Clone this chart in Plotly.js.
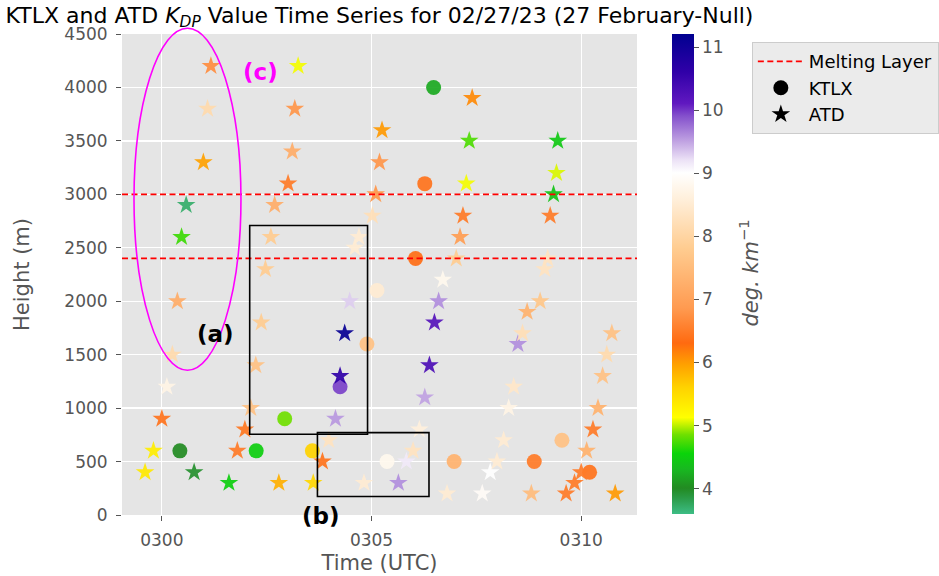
<!DOCTYPE html>
<html>
<head>
<meta charset="utf-8">
<script src="https://cdn.plot.ly/plotly-3.0.1.min.js"></script>
<style>html,body{margin:0;padding:0;background:#fff;}</style>
</head>
<body>
<div id="chart" style="width:939px;height:576px;"></div>
<script>
// Time in minutes after 03:00 UTC
const tickVals = [0, 5, 10];
const tickText = ['0300', '0305', '0310'];
const meltingLayer = [2400, 3000];

// KTLX (circles)
const ktlxTime   = [0.43, 2.25, 2.93, 3.59, 4.25, 4.89, 5.13, 5.37, 6.05, 6.27, 6.48, 6.97, 8.88, 9.54, 10.20];
const ktlxHeight = [600,  600,  900,  600,  1200, 1600, 2100, 500,  2400, 3100, 4000, 500,  500,  700,  400];
const ktlxKdp    = [4.0,  4.5,  4.85, 5.6,  9.95, 7.6,  8.5,  8.8,  6.35, 6.4,  4.2,  7.3,  6.5,  7.6,  6.4];

// ATD (stars)
const atdTime = [
  -0.40, -0.20, 0.00, 0.12, 0.25, 0.37, 0.47, 0.58, 0.99, 1.09, 1.17,
  0.77, 1.60, 1.80, 1.98, 2.12, 2.24, 2.37, 2.47, 2.60, 2.69, 3.01, 3.11, 3.17, 3.25,
  2.79, 3.61, 3.83, 3.98, 4.14, 4.25, 4.36, 4.48, 4.60, 4.70, 5.02, 5.10, 5.19, 5.25,
  4.82, 5.64, 5.83, 5.99, 6.14, 6.27, 6.38, 6.50, 6.60, 6.70, 6.80, 7.02, 7.11, 7.18, 7.26, 7.33, 7.40,
  7.64, 7.83, 7.99, 8.15, 8.27, 8.39, 8.49, 8.60, 8.71, 8.81, 9.02, 9.13, 9.20, 9.26, 9.34, 9.41, 9.44,
  9.64, 9.84, 10.00, 10.13, 10.28, 10.40, 10.51, 10.61, 10.73, 10.81
];
const atdHeight = [
  400, 600, 900, 1200, 1500, 2000, 2600, 2900, 3300, 3800, 4200,
  400, 300, 600, 800, 1000, 1400, 1800, 2300, 2600, 2900, 3100, 3400, 3800, 4200,
  300, 300, 500, 700, 900, 1300, 1700, 2000, 2500, 2600, 2800, 3000, 3300, 3600,
  300, 300, 500, 600, 800, 1100, 1400, 1800, 2000, 2200, 200, 2400, 2600, 2800, 3100, 3500, 3900,
  200, 400, 500, 700, 1000, 1200, 1600, 1700, 1900, 200, 2000, 2300, 2400, 2800, 3000, 3200, 3500,
  200, 300, 400, 600, 800, 1000, 1300, 1500, 1700, 200
];
const atdKdp = [
  5.35, 5.3, 6.4, 8.7, 8.1, 7.2, 4.7, 3.7, 5.95, 8.1, 6.7,
  3.95, 4.5, 6.5, 6.45, 7.6, 7.6, 7.8, 7.8, 7.8, 7.2, 6.5, 7.2, 6.8, 5.1,
  5.85, 5.55, 6.4, 8.3, 9.55, 10.6, 11.1, 9.3, 8.5, 8.5, 8.2, 6.8, 6.8, 6.0,
  8.5, 9.6, 9.15, 8.3, 8.6, 9.5, 10.3, 10.2, 9.6, 8.8, 8.5, 7.8, 6.9, 6.5, 5.1, 4.75, 6.1,
  8.9, 9.0, 8.5, 8.5, 8.7, 8.4, 9.6, 8.2, 7.3, 7.5, 7.7, 8.3, 8.3, 6.5, 4.4, 5.05, 4.45,
  6.5, 6.5, 6.5, 7.3, 6.5, 7.3, 7.6, 8.1, 7.6, 6.0
];

// Colour scale stops (value, colour)
const cmin = 3.59, cmax = 11.2;
const stopVals = [3.59, 3.85, 4.0, 4.3, 4.55, 4.85, 5.12, 5.6, 5.95, 6.3, 6.85, 7.8, 8.6, 9.0, 9.2, 9.5, 9.9, 10.1, 10.6, 11.2];
const stopCols = ['#3dbd85', '#2a9a45', '#228b22', '#18b820', '#0ad40a', '#70e000', '#ffff00', '#ffd200', '#ffa200', '#ff6a10',
                  '#ff9a50', '#ffcc90', '#fff0dc', '#ffffff', '#ece2f6', '#c0a2e2', '#8450cc', '#6018c0', '#3000a8', '#000090'];
const colorscale = stopVals.map((v, i) => [(v - cmin) / (cmax - cmin), stopCols[i]]);

const FONT = 'DejaVu Sans, sans-serif';
const GRAY = '#555555';

const traces = [
  {
    type: 'scatter', mode: 'markers', x: ktlxTime, y: ktlxHeight, showlegend: false, hoverinfo: 'skip',
    marker: { symbol: 'circle', size: 15, color: ktlxKdp, colorscale: colorscale, cmin: cmin, cmax: cmax,
      opacity: 0.92, line: { width: 0 },
      showscale: true,
      colorbar: {
        x: 1.068, xanchor: 'left', xref: 'paper', xpad: 0, ypad: 0,
        y: 0.5, yanchor: 'middle', len: 480, lenmode: 'pixels',
        thickness: 22, outlinewidth: 0, ticks: 'outside', ticklen: 5, tickcolor: GRAY,
        tickvals: [4, 5, 6, 7, 8, 9, 10, 11],
        tickfont: { family: FONT, size: 17, color: GRAY },
        title: { text: '' }
      }
    }
  },
  {
    type: 'scatter', mode: 'markers', x: atdTime, y: atdHeight, showlegend: false, hoverinfo: 'skip',
    marker: { symbol: 'star', size: 14, color: atdKdp, colorscale: colorscale, cmin: cmin, cmax: cmax,
      opacity: 0.92, line: { width: 0 }, showscale: false }
  },
  // legend-only entries
  { type: 'scatter', mode: 'lines', x: [null], y: [null], name: 'Melting Layer',
    line: { color: '#ff0000', width: 1.7, dash: '6px,3.5px' } },
  { type: 'scatter', mode: 'markers', x: [null], y: [null], name: 'KTLX',
    marker: { symbol: 'circle', size: 15, color: '#000000' } },
  { type: 'scatter', mode: 'markers', x: [null], y: [null], name: 'ATD',
    marker: { symbol: 'star', size: 14, color: '#000000' } }
];

const shapes = meltingLayer.map(h => ({
  type: 'line', xref: 'paper', x0: 0, x1: 1, yref: 'y', y0: h, y1: h,
  line: { color: '#ff0000', width: 1.7, dash: '6px,3.5px' }, layer: 'above'
}));
shapes.push({ type: 'circle', xref: 'paper', yref: 'paper', x0: 0.0233, x1: 0.231, y0: 0.301, y1: 1.012,
  line: { color: '#ff00ff', width: 1.6 }, layer: 'above' });
shapes.push({ type: 'rect', xref: 'x', yref: 'y', x0: 2.095, x1: 4.905, y0: 755, y1: 2708,
  line: { color: '#000000', width: 1.6 }, layer: 'above' });
shapes.push({ type: 'rect', xref: 'x', yref: 'y', x0: 3.71, x1: 6.37, y0: 173, y1: 771,
  line: { color: '#000000', width: 1.6 }, layer: 'above' });

const annotations = [
  { xref: 'paper', yref: 'paper', x: 0.1825, y: 0.3755, text: '<b>(a)</b>', showarrow: false,
    font: { family: FONT, size: 23, color: '#000000' }, xanchor: 'center', yanchor: 'middle' },
  { xref: 'paper', yref: 'paper', x: 0.386, y: -0.002, text: '<b>(b)</b>', showarrow: false,
    font: { family: FONT, size: 23, color: '#000000' }, xanchor: 'center', yanchor: 'middle' },
  { xref: 'paper', yref: 'paper', x: 0.268, y: 0.921, text: '<b>(c)</b>', showarrow: false,
    font: { family: FONT, size: 23, color: '#ff00ff' }, xanchor: 'center', yanchor: 'middle' },
  { xref: 'paper', yref: 'paper', x: 1.2175, y: 0.502, text: '<i>deg. km</i><sup>−1</sup>', showarrow: false,
    textangle: -90, font: { family: FONT, size: 21, color: GRAY }, xanchor: 'center', yanchor: 'middle' }
];

const layout = {
  width: 939, height: 576,
  margin: { l: 122, r: 302, t: 34, b: 61, pad: 0, autoexpand: false },
  paper_bgcolor: '#ffffff', plot_bgcolor: '#e5e5e5',
  font: { family: FONT, color: GRAY },
  title: { text: 'KTLX and ATD <i>K</i><sub><i>DP</i></sub> Value Time Series for 02/27/23 (27 February-Null)',
    x: 0.5, xref: 'paper', xanchor: 'center', y: 1 - 15 / 576, yref: 'container', yanchor: 'middle',
    font: { family: FONT, size: 22, color: '#000000' } },
  xaxis: {
    range: [-0.95, 11.33], tickvals: tickVals, ticktext: tickText, automargin: false,
    showgrid: true, gridcolor: '#ffffff', gridwidth: 1.3, zeroline: false, showline: false,
    ticks: 'outside', ticklen: 5, tickcolor: GRAY, tickwidth: 1, ticklabelstandoff: 5,
    tickfont: { family: FONT, size: 17, color: GRAY },
    title: { text: 'Time (UTC)', font: { family: FONT, size: 21, color: GRAY }, standoff: 5 }
  },
  yaxis: {
    range: [0, 4500], dtick: 500, tick0: 0, automargin: false,
    showgrid: true, gridcolor: '#ffffff', gridwidth: 1.3, zeroline: false, showline: false,
    ticks: 'outside', ticklen: 5, tickcolor: GRAY, tickwidth: 1, ticklabelstandoff: 5,
    tickfont: { family: FONT, size: 17, color: GRAY },
    title: { text: 'Height (m)', font: { family: FONT, size: 21, color: GRAY }, standoff: 28 }
  },
  legend: {
    x: 1.223, xanchor: 'left', y: 0.983, yanchor: 'top',
    bgcolor: '#ebebeb', bordercolor: '#cccccc', borderwidth: 1, itemwidth: 46,
    font: { family: FONT, size: 18, color: '#000000' }, tracegroupgap: 0
  },
  shapes: shapes,
  annotations: annotations,
  showlegend: true
};

Plotly.newPlot('chart', traces, layout, { displayModeBar: false, staticPlot: true });
</script>
</body>
</html>
